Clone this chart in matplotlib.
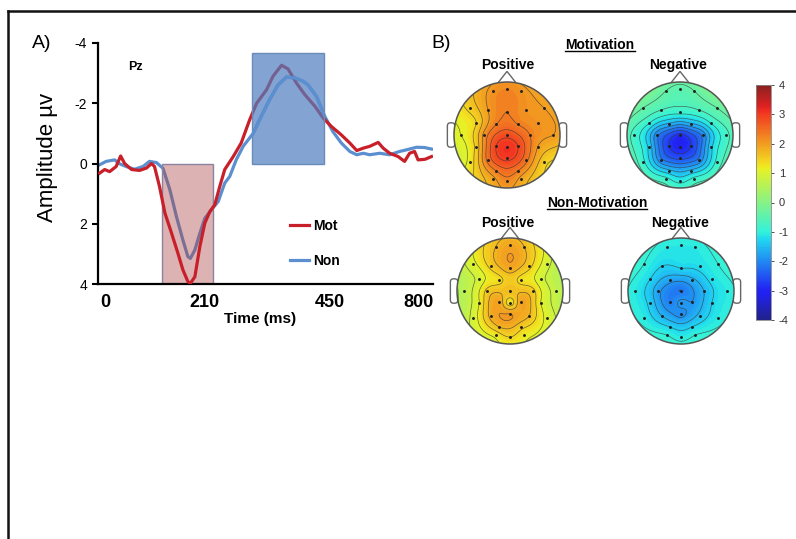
import matplotlib
matplotlib.use('Agg')
import matplotlib.pyplot as plt
import numpy as np
from matplotlib.patches import Rectangle, Circle, FancyBboxPatch, Polygon
from matplotlib.lines import Line2D
import matplotlib.cm as cm
import matplotlib.colors as mcolors

plt.rcParams['font.family'] = ['Liberation Sans', 'DejaVu Sans']
plt.rcParams['axes.unicode_minus'] = False

# ---- A) ERP at Pz ----
mot_t = [-12, -2, 8, 21, 30, 38, 52, 68, 82, 92, 98, 108, 119, 132, 145, 155, 165, 170,
         179, 189, 199, 209, 219, 229, 239, 256, 272, 289, 303, 323, 336, 353, 366, 383,
         400, 420, 437, 453, 473, 490, 504, 517, 530, 547, 557, 570, 587, 600, 610, 620,
         627, 641, 654]
mot_amp = [0.32, 0.2, 0.27, 0.1, -0.25, 0.0, 0.2, 0.23, 0.15, 0.0, 0.1, 0.76, 1.65, 2.3,
           2.98, 3.53, 3.92, 3.98, 3.76, 2.76, 1.98, 1.6, 1.37, 0.76, 0.2, -0.23, -0.68,
           -1.45, -2.0, -2.45, -2.9, -3.26, -3.14, -2.67, -2.28, -1.9, -1.5, -1.23, -0.95,
           -0.68, -0.43, -0.51, -0.57, -0.70, -0.51, -0.34, -0.23, -0.07, -0.34, -0.4,
           -0.12, -0.14, -0.23]
non_t = [-12, 1, 18, 28, 41, 58, 75, 88, 102, 115, 129, 142, 155, 165, 170, 179, 189,
         199, 212, 226, 239, 249, 262, 276, 296, 312, 329, 346, 363, 380, 396, 406, 423,
         440, 456, 473, 490, 504, 517, 530, 550, 570, 590, 603, 624, 640, 654]
non_amp = [0.04, -0.07, -0.12, 0.01, 0.1, 0.19, 0.1, -0.07, -0.03, 0.16, 0.88, 1.76,
           2.54, 3.09, 3.15, 2.87, 2.32, 1.82, 1.54, 1.26, 0.65, 0.43, -0.12, -0.57, -1.0,
           -1.56, -2.12, -2.61, -2.87, -2.84, -2.73, -2.61, -2.23, -1.56, -1.06, -0.68,
           -0.4, -0.29, -0.34, -0.29, -0.34, -0.29, -0.4, -0.45, -0.54, -0.53, -0.48]
win_early = (114, 215, 0, 4)      # t0, t1, amp0, amp1
win_late = (293, 438, -3.68, 0)
xtick_pos = [0, 199, 450, 627]
xtick_lab = ['0', '210', '450', '800']
ytick_vals = [-4, -2, 0, 2, 4]

# ---- B) topographies ----
chan = ['Fp1', 'Fpz', 'Fp2', 'F7', 'F3', 'Fz', 'F4', 'F8', 'FC5', 'FC1', 'FC2', 'FC6',
        'T7', 'C3', 'Cz', 'C4', 'T8', 'CP5', 'CP1', 'CPz', 'CP2', 'CP6', 'P7', 'P3', 'Pz',
        'P4', 'P8', 'PO3', 'PO4', 'O1', 'Oz', 'O2']
chan_x = [-0.27, 0, 0.27, -0.70, -0.36, 0, 0.36, 0.70, -0.58, -0.2, 0.2, 0.58,
          -0.87, -0.43, 0, 0.43, 0.87, -0.58, -0.2, 0, 0.2, 0.58, -0.70, -0.36, 0,
          0.36, 0.70, -0.2, 0.2, -0.27, 0, 0.27]
chan_y = [0.83, 0.87, 0.83, 0.51, 0.47, 0.43, 0.47, 0.51, 0.22, 0.2, 0.2, 0.22,
          0, 0, 0, 0, 0, -0.22, -0.2, -0.22, -0.2, -0.22, -0.51, -0.47, -0.43,
          -0.47, -0.51, -0.68, -0.68, -0.83, -0.87, -0.83]
mot_pos = [2.1, 2.2, 2.1, 1.5, 2.0, 2.3, 2.1, 2.0, 1.4, 2.3, 2.3, 2.1,
           1.1, 2.1, 2.8, 2.3, 2.0, 1.5, 2.9, 3.1, 2.9, 2.0, 1.2, 2.4, 3.0,
           2.4, 1.5, 2.3, 2.3, 1.9, 2.2, 1.9]
mot_neg = [-0.4, -0.5, -0.4, -0.4, -0.7, -0.9, -0.7, -0.4, -1.0, -1.7, -1.7, -1.0,
           -0.8, -2.1, -2.9, -2.1, -0.8, -1.4, -2.8, -3.0, -2.8, -1.4, -0.9, -2.1, -2.6,
           -2.1, -0.9, -1.5, -1.5, -0.9, -1.1, -0.9]
non_pos = [1.7, 1.9, 1.7, 1.0, 1.5, 1.9, 1.5, 0.9, 0.9, 1.3, 1.3, 0.9,
           0.6, 1.5, 1.7, 1.5, 0.7, 1.1, 1.9, 1.2, 1.9, 1.1, 0.9, 1.8, 2.0,
           1.7, 1.0, 1.7, 1.5, 1.2, 1.4, 1.2]
non_neg = [-1.1, -1.1, -1.1, -1.0, -1.3, -1.3, -1.2, -1.0, -1.3, -1.8, -1.7, -1.2,
           -1.1, -1.8, -2.2, -1.6, -1.1, -1.4, -2.1, -1.8, -1.9, -1.3, -1.1, -1.6, -2.0,
           -1.5, -1.1, -1.3, -1.3, -1.0, -1.1, -1.0]
cbar_ticks = [-4, -3, -2, -1, 0, 1, 2, 3, 4]

W, H = 796, 539
fig = plt.figure(figsize=(W / 100, H / 100), dpi=100)


def px(x, y):
    return x / W, 1 - y / H


# frame around the figure
fig.add_artist(Line2D([8 / W, 1], [1 - 11 / H] * 2, color='#111111', lw=1.8))
fig.add_artist(Line2D([8 / W] * 2, [0, 1 - 11 / H], color='#111111', lw=1.8))

# ---- ERP panel ----
ax = fig.add_axes([98 / W, (H - 284) / H, (433 - 98) / W, (284 - 43) / H])
ax.plot(non_t, non_amp, color='#5b8fcf', lw=2.3, zorder=1)
r1 = Rectangle((win_early[0], win_early[2]), win_early[1] - win_early[0],
               win_early[3] - win_early[2], facecolor=(0.67, 0.25, 0.25, 0.4),
               edgecolor='#8a84a0', lw=1, zorder=2)
ax.add_patch(r1)
lm, = ax.plot(mot_t, mot_amp, color='#c8202a', lw=2.3, zorder=3)
r2 = Rectangle((win_late[0], win_late[2]), win_late[1] - win_late[0],
               win_late[3] - win_late[2], facecolor=(0.31, 0.49, 0.75, 0.7),
               edgecolor='#6a8ab8', lw=1, zorder=4)
ax.add_patch(r2)
ln, = ax.plot(non_t, non_amp, color='#5b8fcf', lw=2.3, zorder=5)
ln.set_clip_path(r2)

ax.set_xlim(-15.4, 657)
ax.set_ylim(4, -4)
ax.spines['top'].set_visible(False)
ax.spines['right'].set_visible(False)
ax.spines['left'].set_linewidth(1.6)
ax.spines['bottom'].set_linewidth(1.6)
ax.set_xticks(xtick_pos)
ax.set_xticklabels(xtick_lab, fontsize=13, fontweight='bold')
ax.tick_params(axis='x', length=0, pad=7)
ax.set_yticks(ytick_vals)
ax.set_yticklabels([str(v) for v in ytick_vals], fontsize=10)
ax.tick_params(axis='y', length=4, width=1.5, pad=4)
ax.set_ylabel('Amplitude µv', fontsize=16)
ax.yaxis.set_label_coords(-0.12, 0.527)
ax.set_xlabel('Time (ms)', fontsize=11, fontweight='bold')
ax.xaxis.set_label_coords(0.484, -0.115)
ax.text(0.09, 0.9, 'Pz', transform=ax.transAxes, fontsize=9, fontweight='bold',
        va='center')
ax.legend([lm, ln], ['Mot', 'Non'], loc='upper left',
          bbox_to_anchor=((290 - 98) / 335, (284 - 219) / 241), frameon=False,
          prop={'weight': 'bold', 'size': 10}, handlelength=1.4, handletextpad=0.3,
          labelspacing=1.5, borderpad=0, borderaxespad=0)

fig.text(*px(42, 43), 'A)', fontsize=14, ha='center', va='center')
fig.text(*px(441, 44), 'B)', fontsize=14, ha='center', va='center')

# ---- topographic maps ----
# jet, a bit washed out like the printed figure
jet = plt.get_cmap('jet')(np.linspace(0, 1, 256))
soft = jet.copy()
soft[:, :3] = 0.82 * jet[:, :3] + 0.18 * 0.72
cmap = mcolors.ListedColormap(soft)
norm = mcolors.Normalize(-4, 4)
cx_arr = np.array(chan_x)
cy_arr = np.array(chan_y)


def green(d):
    g = np.zeros_like(d)
    nz = d > 0
    g[nz] = d[nz] ** 2 * (np.log(d[nz]) - 1)
    return g


def topo(center, vals):
    cx, cy = center
    half = 69
    tax = fig.add_axes([(cx - half) / W, (H - cy - half) / H, 2 * half / W, 2 * half / H])
    lim = half / 53
    tax.set_xlim(-lim, lim)
    tax.set_ylim(-lim, lim)
    tax.axis('off')
    pts = np.c_[cx_arr, cy_arr]
    d = np.linalg.norm(pts[:, None] - pts[None], axis=2)
    w = np.linalg.lstsq(green(d), np.array(vals), rcond=None)[0]
    g = np.linspace(-1.02, 1.02, 160)
    gx, gy = np.meshgrid(g, g)
    gp = np.c_[gx.ravel(), gy.ravel()]
    dg = np.linalg.norm(gp[:, None] - pts[None], axis=2)
    z = (green(dg) @ w).reshape(gx.shape)
    for sgn in (-1, 1):
        ear = FancyBboxPatch((sgn * 1.055 - 0.07, -0.23), 0.14, 0.46,
                             boxstyle='round,pad=0,rounding_size=0.06',
                             facecolor='white', edgecolor='#666666', lw=1, zorder=1)
        tax.add_patch(ear)
    nose = Polygon([(-0.17, 0.985), (0, 1.2), (0.17, 0.985)], closed=True,
                   facecolor='white', edgecolor='#666666', lw=1, zorder=1)
    tax.add_patch(nose)
    clip = Circle((0, 0), 1, transform=tax.transData)
    cf = tax.contourf(gx, gy, z, levels=np.linspace(-4, 4, 81), cmap=cmap, norm=norm,
                      extend='both', zorder=2)
    cf.set_clip_path(clip)
    cl = tax.contour(gx, gy, z, levels=np.arange(-4, 4.01, 0.3), colors='#333333',
                     linewidths=0.5, linestyles='solid', alpha=0.7, zorder=3)
    cl.set_clip_path(clip)
    tax.add_patch(Circle((0, 0), 1, fill=False, edgecolor='#555555', lw=1.1, zorder=4))
    tax.plot(cx_arr, cy_arr, 'o', color='#222222', ms=1.1, zorder=5)


topo((507, 135), mot_pos)
topo((680, 135), mot_neg)
topo((510, 291), non_pos)
topo((681, 291), non_neg)

titles = []
titles.append(fig.text(*px(600, 45), 'Motivation', fontsize=10, fontweight='bold',
                       ha='center', va='center'))
titles.append(fig.text(*px(597, 203), 'Non-Motivation', fontsize=10, fontweight='bold',
                       ha='center', va='center'))
fig.text(*px(508, 65), 'Positive', fontsize=10, fontweight='bold', ha='center', va='center')
fig.text(*px(678, 65), 'Negative', fontsize=10, fontweight='bold', ha='center', va='center')
fig.text(*px(508, 223), 'Positive', fontsize=10, fontweight='bold', ha='center', va='center')
fig.text(*px(680, 223), 'Negative', fontsize=10, fontweight='bold', ha='center', va='center')

# colorbar
cax = fig.add_axes([756 / W, (H - 320) / H, 15 / W, 235 / H])
cb = fig.colorbar(cm.ScalarMappable(norm=norm, cmap=cmap), cax=cax, ticks=cbar_ticks)
cb.ax.tick_params(labelsize=8, length=2, width=0.6, colors='#333333')
cb.outline.set_edgecolor('#888888')
cb.outline.set_linewidth(0.6)

# underline the group titles
fig.canvas.draw()
rend = fig.canvas.get_renderer()
for t in titles:
    bb = t.get_window_extent(rend).transformed(fig.transFigure.inverted())
    fig.add_artist(Line2D([bb.x0, bb.x1], [bb.y0 + 0.002] * 2, color='black', lw=1))

fig.savefig('out.png', dpi=100)
